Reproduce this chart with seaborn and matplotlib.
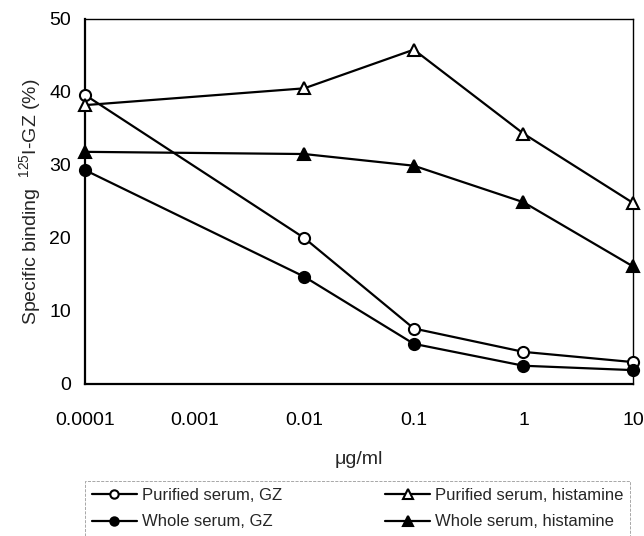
import numpy as np
import pandas as pd
import seaborn as sns
import matplotlib
matplotlib.use('Agg')
import matplotlib.pyplot as plt
from matplotlib.ticker import FixedLocator, FixedFormatter, LogLocator

# 데이터
conc = [0.0001, 0.01, 0.1, 1, 10]
purified_gz = [39.6, 20.0, 7.6, 4.4, 3.0]
whole_gz = [29.3, 14.7, 5.5, 2.5, 1.9]
purified_his = [38.2, 40.5, 45.8, 34.3, 24.8]
whole_his = [31.8, 31.5, 29.9, 24.9, 16.1]
x_ticks = [0.0001, 0.001, 0.01, 0.1, 1, 10]
x_tick_labels = ['0.0001', '0.001', '0.01', '0.1', '1', '10']

# 범례 순서: 열 우선이므로 왼쪽 열 -> 오른쪽 열
series = {
    'Purified serum, GZ': purified_gz,
    'Whole serum, GZ': whole_gz,
    'Purified serum, histamine': purified_his,
    'Whole serum, histamine': whole_his,
}
styles = {
    'Purified serum, GZ': ('o', 'white', 8),
    'Purified serum, histamine': ('^', 'white', 9),
    'Whole serum, GZ': ('o', 'black', 8),
    'Whole serum, histamine': ('^', 'black', 9),
}

sns.set_style('white')
plt.rcParams['font.family'] = ['Liberation Sans', 'DejaVu Sans']
plt.rcParams['mathtext.fontset'] = 'custom'
plt.rcParams['mathtext.rm'] = 'Liberation Sans'

fig = plt.figure(figsize=(6.44, 5.36), dpi=100)
ax = fig.add_axes([0.132, 0.2836, 0.851, 0.681])

for name, vals in series.items():
    df = pd.DataFrame({'conc': conc, 'val': vals})
    m, fc, ms = styles[name]
    sns.lineplot(data=df, x='conc', y='val', ax=ax, color='black', lw=1.6,
                 marker=m, markersize=ms, markerfacecolor=fc,
                 markeredgecolor='black', markeredgewidth=1.5, label=name,
                 clip_on=False, zorder=5)

ax.set_xscale('log')
ax.set_xlim(0.0001, 10)
ax.set_ylim(0, 50)
ax.xaxis.set_major_locator(FixedLocator(x_ticks))
ax.xaxis.set_major_formatter(FixedFormatter(x_tick_labels))
ax.xaxis.set_minor_locator(LogLocator(base=10, subs=np.arange(2, 10)))
ax.set_yticks([0, 10, 20, 30, 40, 50])

ax.tick_params(axis='both', which='major', direction='inout', length=8, width=1,
               labelsize=14, colors='black')
ax.tick_params(axis='x', which='minor', direction='in', length=3, width=0.8)
ax.tick_params(axis='x', which='major', pad=16)
ax.tick_params(axis='y', which='major', pad=6)

for side, s in ax.spines.items():
    s.set_color('black')
    s.set_visible(True)
    s.set_linewidth(1.6 if side in ('left', 'bottom') else 1.0)

ax.set_xlabel('\u03bcg/ml', fontsize=14, labelpad=16)
ax.set_ylabel('Specific binding  $^{125}$I-GZ (%)', fontsize=14, labelpad=4)

handles, labels = ax.get_legend_handles_labels()
ax.get_legend().remove()
leg = fig.legend(handles, labels,
                 ncol=2, loc='upper left', bbox_to_anchor=(0.132, 0.1026),
                 fontsize=12, frameon=True, fancybox=False,
                 handlelength=2.7, handletextpad=0.3, columnspacing=6.2,
                 labelspacing=0.7, borderaxespad=0, borderpad=0.4,
                 markerscale=0.75)
leg.get_frame().set_edgecolor('gray')
leg.get_frame().set_linestyle('--')
leg.get_frame().set_linewidth(0.6)

fig.savefig('out.png', dpi=100)
